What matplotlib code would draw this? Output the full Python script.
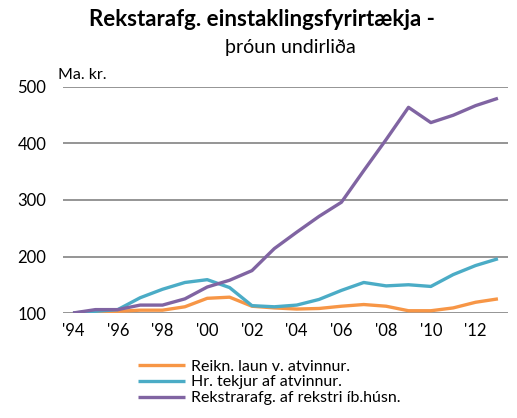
import matplotlib
matplotlib.use("Agg")
import matplotlib.pyplot as plt

plt.rcParams['font.family'] = ['Lato', 'DejaVu Sans']

years = list(range(1994, 2014))
laun = [100, 100, 103, 105, 105, 111, 126, 128, 112, 109, 107, 108, 112, 115, 112, 104, 104, 109, 119, 125]
tekjur = [100, 103, 106, 127, 142, 154, 159, 145, 113, 111, 114, 124, 140, 154, 148, 150, 147, 168, 184, 196]
rekstur = [100, 106, 106, 114, 114, 125, 146, 158, 175, 214, 243, 271, 296, 352, 407, 464, 437, 450, 467, 480]

labels = ["Reikn. laun v. atvinnur.", "Hr. tekjur af atvinnur.", "Rekstrarafg. af rekstri íb.húsn."]
colors = ["#F79646", "#4BACC6", "#8064A2"]
xticks = list(range(1994, 2013, 2))
xticklabels = ["'%02d" % (y % 100) for y in xticks]

fig = plt.figure(figsize=(5.17, 4.18), dpi=100)
ax = fig.add_axes([63/517, 1 - 313/418, 445/517, 226/418])

for vals, lab, col in zip([laun, tekjur, rekstur], labels, colors):
    ax.plot(years, vals, color=col, lw=2.4, label=lab, solid_capstyle='butt')

ax.set_ylim(100, 500)
ax.set_xlim(1993.55, 2013.45)
ax.set_yticks([100, 200, 300, 400, 500])
ax.set_xticks(xticks)
ax.set_xticklabels(xticklabels)
ax.grid(axis='y', color='#8c8c8c', lw=1.3)
ax.set_axisbelow(True)
for s in ax.spines.values():
    s.set_visible(False)
ax.tick_params(length=0, labelsize=12, colors='black')
ax.tick_params(axis='y', pad=12)
ax.tick_params(axis='x', pad=7)

fig.text(262/517, 1 - 20/418, "Rekstarafg. einstaklingsfyrirtækja -", ha='center', va='center',
         fontsize=16, fontweight='bold')
fig.text(290/517, 1 - 47/418, "þróun undirliða", ha='center', va='center', fontsize=14)
fig.text(58/517, 1 - 75/418, "Ma. kr.", ha='left', va='center', fontsize=11.5)

ax.legend(loc='upper left', bbox_to_anchor=(132/517, 1 - 353/418), bbox_transform=fig.transFigure,
          frameon=False, fontsize=11.5, handlelength=2.9, handletextpad=0.4, labelspacing=0.1,
          borderaxespad=0)

fig.savefig("out.png", dpi=100)
